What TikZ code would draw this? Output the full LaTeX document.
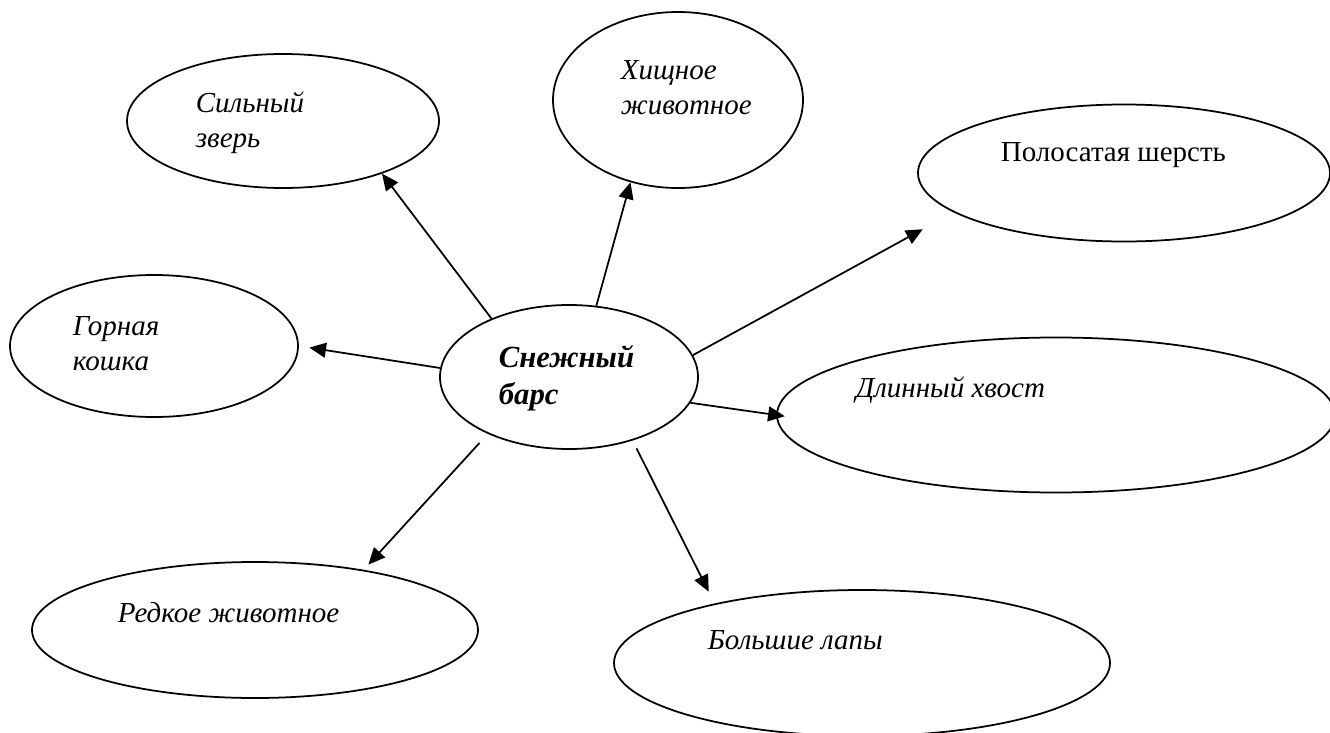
\documentclass[tikz,border=0pt]{standalone}
\usepackage{fontspec}
\setmainfont{Liberation Serif}
\usetikzlibrary{shapes.geometric,arrows.meta}

\begin{document}
\begin{tikzpicture}[
    >={Triangle[length=9.5pt,width=8.5pt]},
    line width=1pt,
    oval/.style={draw, ellipse, inner sep=0pt},
    txt/.style={anchor=west, inner sep=0pt, align=left,
      font=\fontsize{16.5}{20}\selectfont\itshape}]
    \useasboundingbox (0,0) rectangle (26.6,-14.66);
    % ovals
    \node[oval, minimum width=6.24cm, minimum height=2.68cm] (silny) at (5.66,-2.42) {};
    \node[oval, minimum width=5.00cm, minimum height=3.52cm] (hisch) at (13.56,-2.00) {};
    \node[oval, minimum width=8.24cm, minimum height=2.74cm] (polos) at (22.48,-3.46) {};
    \node[oval, minimum width=5.76cm, minimum height=2.84cm] (gorn) at (3.08,-6.92) {};
    \node[oval, minimum width=5.16cm, minimum height=2.88cm] (bars) at (11.38,-7.54) {};
    \node[oval, minimum width=11.16cm, minimum height=3.10cm] (dlin) at (21.12,-8.30) {};
    \node[oval, minimum width=8.92cm, minimum height=2.72cm] (redk) at (5.10,-12.60) {};
    \node[oval, minimum width=9.92cm, minimum height=2.92cm] (bols) at (17.24,-13.26) {};
    % texts
    \node[txt] (silnyT) at (3.90,-2.45) {Сильный\\зверь};
    \node[txt] (hischT) at (12.40,-1.75) {Хищное\\животное};
    \node[txt, font=\fontsize{16.5}{20}\selectfont] (polosT) at (20.00,-3.10) {Полосатая шерсть};
    \node[txt] (gornT) at (1.44,-6.87) {Горная\\кошка};
    \node[txt, font=\fontsize{17.5}{21}\selectfont\bfseries\itshape] (barsT) at (9.96,-7.57) {Снежный\\барс};
    \node[txt] (dlinT) at (17.10,-7.80) {Длинный хвост};
    \node[txt] (redkT) at (2.34,-12.26) {Редкое животное};
    \node[txt] (bolsT) at (14.14,-12.80) {Большие лапы};
    % arrows
    \draw[->] (bars.143) -- (silny.332);
    \draw[->] (bars.69) -- (hisch.240);
    \draw[->, shorten >=20pt] (bars.10) -- (polos.193);
    \draw[->, shorten >=6pt] (bars.176) -- (gorn.east);
    \draw[->, shorten >=-5pt] (bars.348) -- (dlin.west);
    \draw[->, shorten <=7pt, shorten >=4pt] (bars.215) -- (redk.29);
    \draw[->, shorten <=5pt, shorten >=7.5pt] (bars.315) -- (bols.158);
\end{tikzpicture}
\end{document}
